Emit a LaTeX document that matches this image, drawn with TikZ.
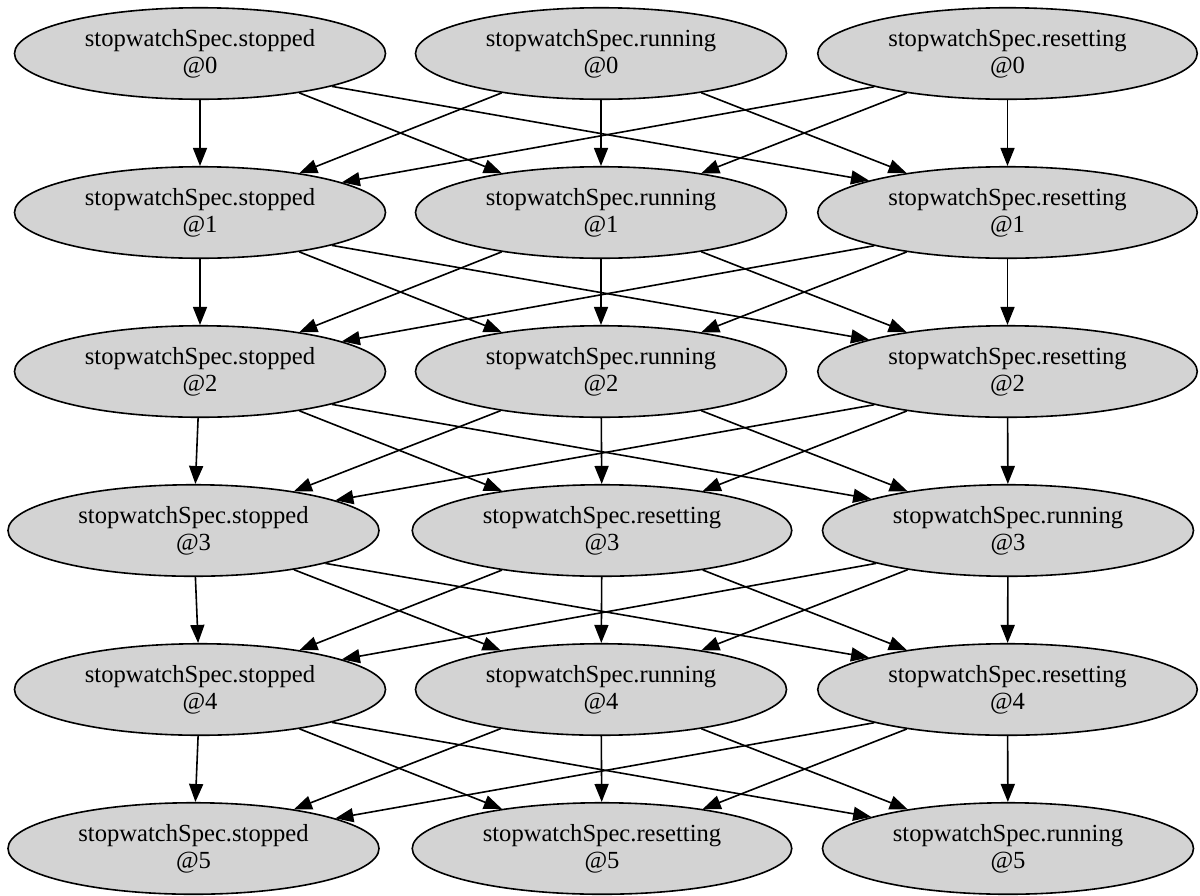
\documentclass[tikz,border=0pt]{standalone}
\usepackage{fontspec}
\setmainfont{Liberation Serif}
\usetikzlibrary{shapes.geometric,arrows.meta}
\definecolor{nodegray}{HTML}{D3D3D3}
\begin{document}
\begin{tikzpicture}[x=0.5pt,y=-0.5pt,
  st/.style={ellipse,draw=black,fill=nodegray,line width=0.8pt,inner sep=0pt,
    minimum width=185.5pt,minimum height=45.75pt,align=center,
    font=\fontsize{12.3}{13.5}\selectfont},
  wide/.style={st,minimum width=189.75pt},
  edge/.style={draw=black,line width=0.8pt,-{Triangle[length=9pt,width=7pt]}}]
\useasboundingbox (0,0) rectangle (1200,895);
% rows 0,1,2,4: stopped | running | resetting
\foreach \k/\y in {0/53.5,1/212.5,2/371.5,4/689.5}{
  \node[st]   (s\k) at (200,\y)    {stopwatchSpec.stopped\\@\k};
  \node[st]   (r\k) at (601,\y)    {stopwatchSpec.running\\@\k};
  \node[wide] (z\k) at (1007.5,\y) {stopwatchSpec.resetting\\@\k};
}
% rows 3,5: stopped | resetting | running
\foreach \k/\y in {3/530.5,5/848.5}{
  \node[st]   (s\k) at (193.5,\y) {stopwatchSpec.stopped\\@\k};
  \node[wide] (z\k) at (602,\y)   {stopwatchSpec.resetting\\@\k};
  \node[st]   (r\k) at (1008,\y)  {stopwatchSpec.running\\@\k};
}
% layer i -> j : middle / right column node of each row
\foreach \i/\j/\mi/\ri/\mj/\rj in {0/1/r/z/r/z, 1/2/r/z/r/z, 2/3/r/z/z/r,
                                   3/4/z/r/r/z, 4/5/r/z/z/r}{
  \draw[edge] (s\i) -- (s\j);
  \draw[edge] (s\i) -- (\mj\j);
  \draw[edge] (s\i.-14.5) -- (\rj\j.167.5);
  \draw[edge] (\mi\i) -- (s\j);
  \draw[edge] (\mi\i) -- (\mj\j);
  \draw[edge] (\mi\i) -- (\rj\j);
  \draw[edge] (\ri\i.194.5) -- (s\j.12.5);
  \draw[edge] (\ri\i) -- (\mj\j);
  \draw[edge] (\ri\i) -- (\rj\j);
}
\end{tikzpicture}
\end{document}
